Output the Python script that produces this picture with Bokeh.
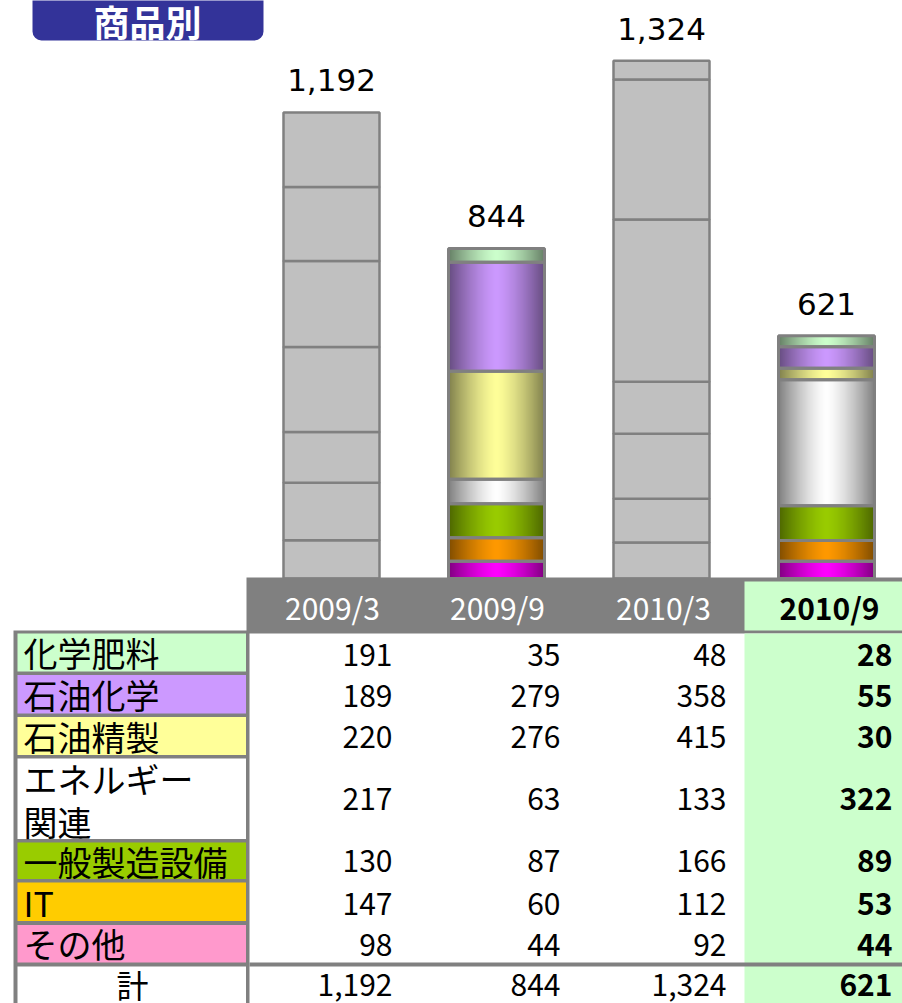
import numpy as np
from bokeh.plotting import figure
from bokeh.models import ColumnDataSource, Range1d, BoxAnnotation
from bokeh.core.properties import value
from bokeh.embed import file_html
from bokeh.resources import INLINE

# ---------------- data ----------------
title = "商品別"
periods = ["2009/3", "2009/9", "2010/3", "2010/9"]
series_names = ["化学肥料", "石油化学", "石油精製", "エネルギー関連", "一般製造設備", "IT", "その他"]
kagaku_hiryo = [191, 35, 48, 28]
sekiyu_kagaku = [189, 279, 358, 55]
sekiyu_seisei = [220, 276, 415, 30]
energy = [217, 63, 133, 322]
ippan_seizo = [130, 87, 166, 89]
it = [147, 60, 112, 53]
sonota = [98, 44, 92, 44]
totals = [1192, 844, 1324, 621]
total_label = "計"

series_values = [kagaku_hiryo, sekiyu_kagaku, sekiyu_seisei, energy, ippan_seizo, it, sonota]

# ---------------- styles ----------------
bar_colors = ["#CCFFCC", "#CC99FF", "#FFFF99", "#FFFFFF", "#99CC00", "#FF9900", "#FF00FF"]
label_colors = ["#CCFFCC", "#CC99FF", "#FFFF99", "#FFFFFF", "#99CC00", "#FFCC00", "#FF99CC"]
colored_bar = [False, True, False, True]
GRAY = "#808080"
JP = value("Noto Sans CJK JP")

SCALE = 0.391          # px per unit
BASE = 578.0           # page y of the bars' baseline


def Y(py):
    return (BASE - py) / SCALE


p = figure(width=902, height=1003, x_range=Range1d(0, 902), y_range=Range1d(Y(1003), Y(0)),
           output_backend="svg", toolbar_location=None, x_axis_location=None,
           y_axis_location=None, min_border=0)
p.grid.visible = False
p.outline_line_color = None
p.background_fill_color = "white"
p.border_fill_color = "white"

# ---------------- title box ----------------
p.add_layout(BoxAnnotation(left=32, right=263, bottom=Y(40), top=Y(-30), fill_color="#333399",
                           fill_alpha=1, line_color=None, border_radius=9, level="underlay"))
p.text(x=[147], y=[Y(20)], text=[title], text_font=JP, text_font_size="36px",
       text_font_style="bold", text_color="white", text_align="center", text_baseline="middle")

# ---------------- bars ----------------
bar_cx = [331, 496, 661, 826]
half_w = 48
N = 24


def shade(c, k):
    r, g, b = int(c[1:3], 16), int(c[3:5], 16), int(c[5:7], 16)
    return "#%02x%02x%02x" % (int(r * k), int(g * k), int(b * k))


gray_src = dict(left=[], right=[], bottom=[], top=[])
strip_src = dict(left=[], right=[], bottom=[], top=[], color=[])
outline_src = dict(left=[], right=[], bottom=[], top=[])

stack_order = list(range(len(series_names)))[::-1]   # bottom -> top
for j, cx in enumerate(bar_cx):
    cum = 0
    for si in stack_order:
        v = series_values[si][j]
        b, t = cum, cum + v
        cum = t
        if not colored_bar[j]:
            gray_src["left"].append(cx - half_w)
            gray_src["right"].append(cx + half_w)
            gray_src["bottom"].append(b)
            gray_src["top"].append(t)
        else:
            # nested rectangles, widest (darkest) first -> horizontal gradient without seams
            for k in range(N, 0, -1):
                hw = half_w * k / N
                tt = (k - 0.5) / N
                f = 1 - 0.5 * tt ** 1.4
                strip_src["left"].append(cx - hw)
                strip_src["right"].append(cx + hw)
                strip_src["bottom"].append(b)
                strip_src["top"].append(t)
                strip_src["color"].append(shade(bar_colors[si], f))
            outline_src["left"].append(cx - half_w)
            outline_src["right"].append(cx + half_w)
            outline_src["bottom"].append(b)
            outline_src["top"].append(t)

p.quad(source=ColumnDataSource(gray_src), left="left", right="right", bottom="bottom", top="top",
       fill_color="#C0C0C0", line_color=GRAY, line_width=2.5)
p.quad(source=ColumnDataSource(strip_src), left="left", right="right", bottom="bottom", top="top",
       fill_color="color", line_color=None)
p.quad(source=ColumnDataSource(outline_src), left="left", right="right", bottom="bottom", top="top",
       fill_color=None, line_color=GRAY, line_width=3)

# total labels above bars
p.text(x=bar_cx, y=[t + 32 / SCALE for t in totals], text=[f"{t:,}" for t in totals],
       text_font=value("DejaVu Sans"), text_font_size="31px", text_color="black",
       text_align="center", text_baseline="middle")

# ---------------- table ----------------
# header band
p.quad(left=[246], right=[902], top=[Y(577)], bottom=[Y(633)], fill_color=GRAY, line_color=None)
p.quad(left=[744], right=[902], top=[Y(581)], bottom=[Y(630)], fill_color="#CCFFCC", line_color=None)
# highlighted column body
p.quad(left=[744], right=[902], top=[Y(633)], bottom=[Y(1012)], fill_color="#CCFFCC", line_color=None)
# label column frame
p.quad(left=[13], right=[249], top=[Y(630)], bottom=[Y(1012)], fill_color=GRAY, line_color=None)
row_tb = [(633, 671), (674.5, 713), (716.5, 754.5), (758, 838.5), (842, 878.5), (882, 920.5), (924.5, 962)]
p.quad(left=[17] * 7, right=[245.5] * 7, top=[Y(a) for a, b in row_tb], bottom=[Y(b) for a, b in row_tb],
       fill_color=label_colors, line_color=None)
p.quad(left=[17], right=[245.5], top=[Y(966)], bottom=[Y(1012)], fill_color="white", line_color=None)
# line above total row
p.quad(left=[249], right=[902], top=[Y(962)], bottom=[Y(966)], fill_color=GRAY, line_color=None)

# header texts
head_cx = [332, 497, 663, 829]
p.text(x=head_cx[:3], y=[Y(606)] * 3, text=periods[:3], text_font=JP, text_font_size="30px",
       text_color="white", text_align="center", text_baseline="middle")
p.text(x=head_cx[3:], y=[Y(606)], text=periods[3:], text_font=JP, text_font_size="30px",
       text_font_style="bold", text_color="black", text_align="center", text_baseline="middle")

# row labels
label_cy = [652, 694, 736, 799.5, 861, 902, 943]
disp = [n if len(n) <= 6 else n[:5] + "\n" + n[5:] for n in series_names]
p.text(x=[23] * 7, y=[Y(c) for c in label_cy], text=disp, text_font=JP, text_font_size="34px",
       text_color="black", text_align="left", text_baseline="middle", text_line_height=0.88)
p.text(x=[132], y=[Y(983)], text=[total_label], text_font=JP, text_font_size="32px",
       text_color="black", text_align="center", text_baseline="middle")

# values
val_cy = [654, 695, 736.5, 798, 860, 903, 944]
val_rx = [392, 560, 726, 892]
for j in range(4):
    style = "bold" if j == 3 else "normal"
    p.text(x=[val_rx[j]] * 8, y=[Y(c) for c in val_cy] + [Y(984)],
           text=[f"{s[j]:,}" for s in series_values] + [f"{totals[j]:,}"],
           text_font=JP, text_font_size="30px", text_font_style=style, text_color="black",
           text_align="right", text_baseline="middle")

open("out.html", "w").write(file_html(p, INLINE))
